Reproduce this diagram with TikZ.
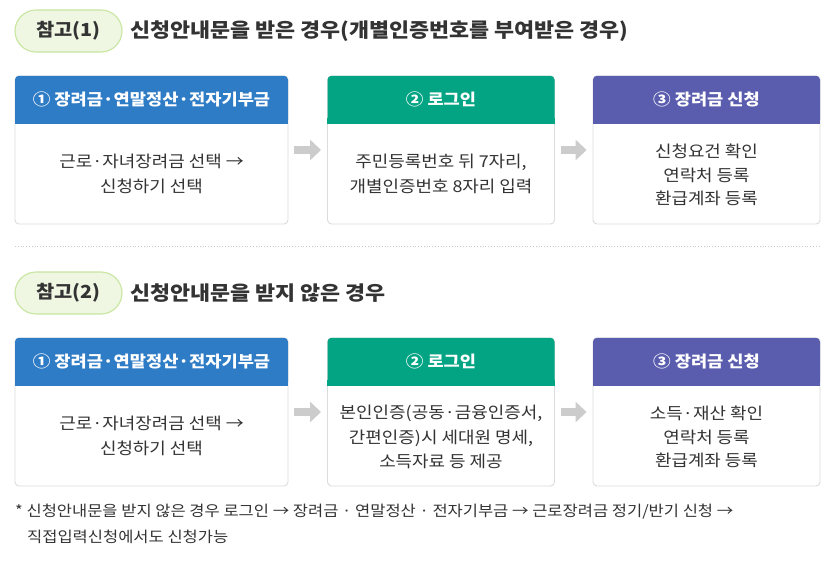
\documentclass[tikz,border=0pt]{standalone}
\usepackage{fontspec}
\setmainfont{Noto Sans CJK KR}[FakeStretch=1.1]
\usetikzlibrary{arrows.meta}
\definecolor{cblue}{HTML}{2E7BC6}
\definecolor{cgreen}{HTML}{03A483}
\definecolor{cpurple}{HTML}{5A5DAE}
\definecolor{ctext}{HTML}{333333}
\definecolor{pillfill}{HTML}{EFF7E3}
\definecolor{pillline}{HTML}{C8E6A0}
\definecolor{cardline}{HTML}{DCDCDC}
\definecolor{arrowgray}{HTML}{CCCCCC}
\tikzset{
  card/.style={draw=cardline, line width=0.9pt, fill=white, rounded corners=4pt, minimum width=#1, minimum height=148pt, inner sep=0pt},
  hdr/.style={fill=#1, rounded corners=4pt, minimum height=48pt, inner sep=0pt, text=white, font=\fontsize{16}{19}\selectfont\bfseries},
  bodytext/.style={text=ctext, align=center, inner sep=0pt, font=\fontsize{16.3}{25}\selectfont},
  pill/.style={draw=pillline, line width=1.1pt, fill=pillfill, rounded corners=21pt, minimum width=107pt, minimum height=42pt, inner sep=0pt, text=ctext, font=\fontsize{18}{21}\selectfont\bfseries},
  titletext/.style={anchor=west, text=ctext, inner sep=0pt, font=\fontsize{19.8}{23}\selectfont\bfseries},
  garrow/.style={draw=arrowgray, line width=8pt, shorten <=6pt, shorten >=6pt, -{Triangle[length=11pt,width=20pt]}},
  note/.style={anchor=west, text=ctext, inner sep=0pt, font=\fontsize{15}{18}\selectfont},
}
\newcommand{\hdrpatch}[2]{\fill[#2] ([yshift=6pt]#1.south west) rectangle (#1.south east);}
\begin{document}
\begin{tikzpicture}[x=1pt,y=-1pt]
\useasboundingbox[fill=white] (0,0) rectangle (836,562);

% ---------- Section 1 ----------
\node[pill] (p1) at (68.5,31) {참고(1)};
\node[titletext] (t1) at (130,31) {신청안내문을 받은 경우(개별인증번호를 부여받은 경우)};

\node[card=273pt] (c11) at (151.5,150) {};
\node[hdr=cblue, minimum width=273pt, anchor=north] (h11) at (c11.north) {① 장려금·연말정산·전자기부금};
\hdrpatch{h11}{cblue}
\node[bodytext] (b11) at (151.5,174) {근로·자녀장려금 선택 →\\신청하기 선택};

\node[card=227pt] (c12) at (441,150) {};
\node[hdr=cgreen, minimum width=227pt, anchor=north] (h12) at (c12.north) {② 로그인};
\hdrpatch{h12}{cgreen}
\node[bodytext] (b12) at (441,174) {주민등록번호 뒤 7자리,\\개별인증번호 8자리 입력};

\node[card=227pt] (c13) at (706.5,150) {};
\node[hdr=cpurple, minimum width=227pt, anchor=north] (h13) at (c13.north) {③ 장려금 신청};
\hdrpatch{h13}{cpurple}
\node[bodytext, font=\fontsize{16.3}{23.5}\selectfont] (b13) at (706.5,175) {신청요건 확인\\연락처 등록\\환급계좌 등록};

\draw[garrow] (c11.east) -- (c12.west);
\draw[garrow] (c12.east) -- (c13.west);

% separator
\coordinate (s1) at (15,246);
\coordinate (s2) at (820,246);
\draw[arrowgray, line width=0.8pt, dotted] (s1) -- (s2);

% ---------- Section 2 ----------
\node[pill] (p2) at (68.5,293) {참고(2)};
\node[titletext] (t2) at (130,293) {신청안내문을 받지 않은 경우};

\node[card=273pt] (c21) at (151.5,412) {};
\node[hdr=cblue, minimum width=273pt, anchor=north] (h21) at (c21.north) {① 장려금·연말정산·전자기부금};
\hdrpatch{h21}{cblue}
\node[bodytext] (b21) at (151.5,436) {근로·자녀장려금 선택 →\\신청하기 선택};

\node[card=227pt] (c22) at (441,412) {};
\node[hdr=cgreen, minimum width=227pt, anchor=north] (h22) at (c22.north) {② 로그인};
\hdrpatch{h22}{cgreen}
\node[bodytext, font=\fontsize{16.3}{24.5}\selectfont] (b22) at (441,437) {본인인증(공동·금융인증서,\\간편인증)시 세대원 명세,\\소득자료 등 제공};

\node[card=227pt] (c23) at (706.5,412) {};
\node[hdr=cpurple, minimum width=227pt, anchor=north] (h23) at (c23.north) {③ 장려금 신청};
\hdrpatch{h23}{cpurple}
\node[bodytext, font=\fontsize{16.3}{23.5}\selectfont] (b23) at (706.5,437) {소득·재산 확인\\연락처 등록\\환급계좌 등록};

\draw[garrow] (c21.east) -- (c22.west);
\draw[garrow] (c22.east) -- (c23.west);

% ---------- Footnote ----------
\node[note] (n1) at (15,512) {* 신청안내문을 받지 않은 경우 로그인 → 장려금 · 연말정산 · 전자기부금 → 근로장려금 정기/반기 신청 →};
\node[note] (n2) at (27,537) {직접입력신청에서도 신청가능};
\end{tikzpicture}
\end{document}
